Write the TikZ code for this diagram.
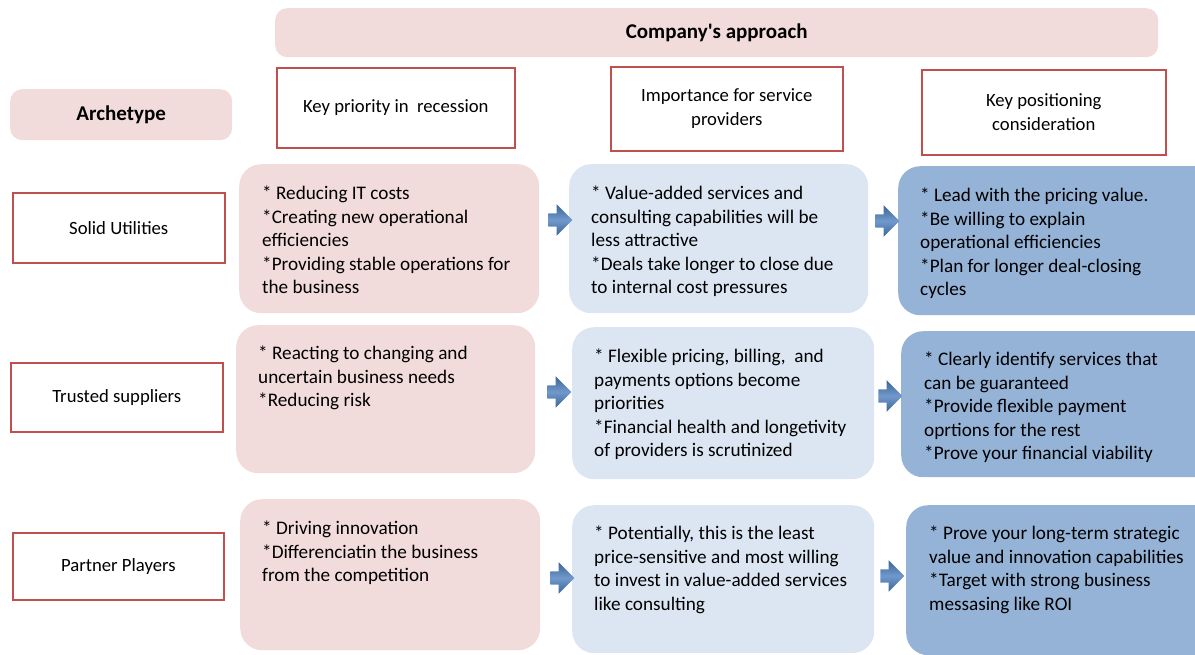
\documentclass[tikz,border=0pt]{standalone}
\usepackage{fontspec}
\setmainfont{Carlito}[Ligatures=TeXOff]
\usetikzlibrary{shapes.arrows}
\definecolor{pinkfill}{HTML}{F2DCDB}
\definecolor{lbfill}{HTML}{DCE6F2}
\definecolor{dbfill}{HTML}{95B3D7}
\definecolor{redline}{HTML}{C0504D}
\definecolor{arrdark}{HTML}{3A6496}
\definecolor{arrlight}{HTML}{7199CC}
\begin{document}
\begin{tikzpicture}[x=1pt,y=-1pt,
  hdr/.style={fill=pinkfill, rounded corners=12pt, inner sep=0pt, anchor=north west,
    font=\fontsize{21}{24}\selectfont\bfseries},
  redbox/.style={draw=redline, line width=1.6pt, fill=white, inner sep=0pt, anchor=north west,
    align=center, font=\fontsize{18.7}{23.5}\selectfont},
  card/.style={rounded corners=22pt, inner sep=0pt, anchor=north west},
  pinkcard/.style={card, fill=pinkfill},
  lightcard/.style={card, fill=lbfill},
  darkcard/.style={card, fill=dbfill},
  txt/.style={anchor=north west, inner sep=0pt, align=left,
    font=\fontsize{19.2}{23.4}\selectfont, execute at begin node=\strut},
  blockarrow/.style={single arrow, single arrow head extend=9pt, minimum height=24pt,
    minimum width=31pt, inner xsep=0pt, inner ysep=6.5pt, draw=none,
    top color=arrdark, bottom color=arrdark, middle color=arrlight}
]
\useasboundingbox (0,0) rectangle (1195,654);
\clip (0,0) rectangle (1195,654);

% headers
\node[hdr, minimum width=883pt, minimum height=49pt] (company) at (275,8) {Company's approach};
\node[hdr, minimum width=222pt, minimum height=51pt] (arch) at (10,89) {Archetype};

\node[redbox, minimum width=238pt, minimum height=80pt] (h1) at (276,67) {Key priority in\ \ recession};
\node[redbox, minimum width=232pt, minimum height=84pt] (h2) at (610,66) {Importance for service\\providers};
\node[redbox, minimum width=244pt, minimum height=85pt] (h3) at (921,69) {Key positioning\\consideration};

% archetypes
\node[redbox, minimum width=212pt, minimum height=70pt] (a1) at (12,192) {Solid Utilities};
\node[redbox, minimum width=212pt, minimum height=69pt] (a2) at (10,362) {Trusted suppliers};
\node[redbox, minimum width=211pt, minimum height=67pt] (a3) at (12,532) {Partner Players};

% cards
\node[pinkcard, minimum width=300pt, minimum height=149pt] (k1) at (239,164) {};
\node[pinkcard, minimum width=299pt, minimum height=148pt] (k2) at (236,325) {};
\node[pinkcard, minimum width=300pt, minimum height=151pt] (k3) at (240,499) {};

\node[lightcard, minimum width=299pt, minimum height=149pt] (s1) at (569,164) {};
\node[lightcard, minimum width=302pt, minimum height=152pt] (s2) at (572,327) {};
\node[lightcard, minimum width=302pt, minimum height=148pt] (s3) at (572,505) {};

\node[darkcard, minimum width=320pt, minimum height=149pt] (c1) at (898,166) {};
\node[darkcard, minimum width=320pt, minimum height=146pt] (c2) at (901,331) {};
\node[darkcard, minimum width=320pt, minimum height=150pt] (c3) at (906,505) {};

% card texts
\node[txt] (tk1) at (262,186) {* Reducing IT costs\\*Creating new operational\\efficiencies\\*Providing stable operations for\\the business};
\node[txt] (tk2) at (258,346) {* Reacting to changing and\\uncertain business needs\\*Reducing risk};
\node[txt] (tk3) at (262,521) {* Driving innovation\\*Differenciatin the business\\from the competition};

\node[txt] (ts1) at (591,186) {* Value-added services and\\consulting capabilities will be\\less attractive\\*Deals take longer to close due\\to internal cost pressures};
\node[txt] (ts2) at (594,349) {* Flexible pricing, billing, \ and\\payments options become\\priorities\\*Financial health and longetivity\\of providers is scrutinized};
\node[txt] (ts3) at (594,526) {* Potentially, this is the least\\price-sensitive and most willing\\to invest in value-added services\\like consulting};

\node[txt] (tc1) at (920,188) {* Lead with the pricing value.\\*Be willing to explain\\operational efficiencies\\*Plan for longer deal-closing\\cycles};
\node[txt] (tc2) at (924,352) {* Clearly identify services that\\can be guaranteed\\*Provide flexible payment\\oprtions for the rest\\*Prove your financial viability};
\node[txt] (tc3) at (929,526) {* Prove your long-term strategic\\value and innovation capabilities\\*Target with strong business\\messasing like ROI};

% block arrows
\node[blockarrow] (ar1) at (557,220) {};
\node[blockarrow] (ar2) at (884,221) {};
\node[blockarrow] (ar3) at (556,392) {};
\node[blockarrow] (ar4) at (887,396) {};
\node[blockarrow] (ar5) at (559,578) {};
\node[blockarrow] (ar6) at (889,576) {};
\end{tikzpicture}
\end{document}
